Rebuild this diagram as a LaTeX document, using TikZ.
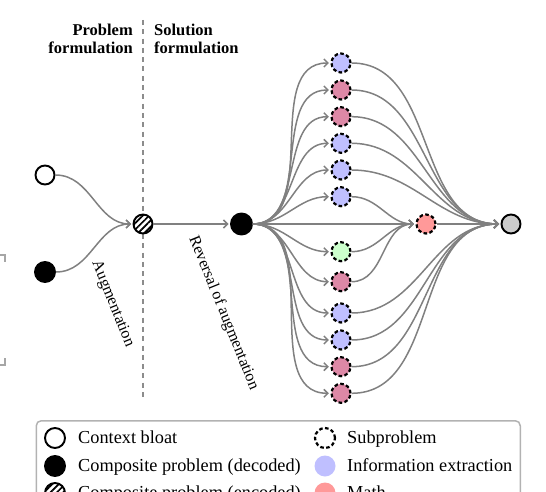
\documentclass[tikz,border=0pt]{standalone}
\usepackage{fontspec}
\setmainfont{Liberation Serif}
\usetikzlibrary{positioning,arrows.meta,patterns.meta,calc}
\definecolor{infoblue}{RGB}{191,191,255}
\definecolor{mathred}{RGB}{255,153,153}
\definecolor{subpink}{RGB}{221,136,166}
\definecolor{subgreen}{RGB}{204,255,204}
\definecolor{ansgray}{RGB}{204,204,204}

\begin{document}
\begin{tikzpicture}[x=1pt, y=-1pt,
  dot/.style={circle, draw, line width=1.9pt, minimum size=19pt, inner sep=0pt},
  sub/.style={circle, draw, dash pattern=on 3.6pt off 2.4pt, line width=2.2pt, minimum size=19pt, inner sep=0pt},
  hatch/.style={dot, preaction={fill=white}, pattern={Lines[angle=45,distance=4.5pt,line width=1.7pt]}},
  flow/.style={draw=gray, line width=1.5pt, -{Straight Barb[length=4pt,width=8pt]}, shorten >=1.5pt},
  lbl/.style={font=\fontsize{16}{18}\selectfont, rotate=-68, inner sep=0pt},
  head/.style={font=\fontsize{16.5}{18}\selectfont\bfseries, inner sep=0pt},
  legtxt/.style={font=\fontsize{18.3}{22}\selectfont, anchor=base west, inner sep=0pt}]
% x, y in pixels of the 546 x 492 frame, y going down
\useasboundingbox (0,0) rectangle (546,492);
\clip (0,0) rectangle (546,492);

% split between the two halves
\coordinate (divtop) at (143,20);
\coordinate (divbot) at (143,401);
\draw[gray!90, line width=2.2pt, dash pattern=on 5pt off 4.3pt] (divtop) -- (divbot);
\node[head, anchor=north east, align=right] (phead) at (133,24) {Problem\\formulation};
\node[head, anchor=north west, align=left] (shead) at (154,24) {Solution\\formulation};

% corner marks at the left edge
\draw[gray!70, line width=1.5pt] (0,255) -- (5,255) -- (5,262);
\draw[gray!70, line width=1.5pt] (5,358) -- (5,365) -- (0,365);

% problem side
\node[dot, fill=white] (bloat) at (45,175) {};
\node[dot, fill=black, minimum size=20pt] (dec) at (45,272) {};
\node[hatch] (enc) at (143,224) {};
\node[dot, fill=black, minimum size=21pt] (sol) at (241.5,224) {};
\draw[flow] (bloat) to[out=0,in=180] (enc);
\draw[flow] (dec) to[out=0,in=180] (enc);
\draw[flow] (enc) -- (sol);
\node[lbl] (auglbl) at (112.5,304) {Augmentation};
\node[lbl] (revlbl) at (223.5,313) {Reversal of augmentation};

% subproblems
\foreach \i/\y/\c in {1/63/infoblue, 2/90/subpink, 3/116.7/subpink, 4/143.3/infoblue, 5/170/infoblue, 6/196.7/infoblue,
  7/251.7/subgreen, 8/281.7/subpink, 9/313/infoblue, 10/340/infoblue, 11/366.7/subpink, 12/393.3/subpink}
  { \node[sub, fill=\c] (s\i) at (341,\y) {}; }
\node[sub, fill=mathred] (math) at (426,224) {};
\node[dot, fill=ansgray] (ans) at (511,224) {};

\foreach \i in {1,...,12} { \draw[flow] (sol) to[out=0,in=180] (s\i); }
\draw[flow] (sol) -- (math);
\foreach \i in {6,7,8} { \draw[flow] (s\i) to[out=0,in=180] (math); }
\foreach \i in {1,...,5,9,10,11,12} { \draw[flow] (s\i) to[out=0,in=180] (ans); }
\draw[flow] (math) -- (ans);

% legend
\node[draw=gray!60, line width=1.5pt, rounded corners=5pt, minimum width=484pt, minimum height=110pt, anchor=north west, inner sep=0pt] (legend) at (35.5,420) {};
\node[dot, fill=white, minimum size=20pt] (lk1) at (55,438) {};
\node[dot, fill=black, minimum size=20pt] (lk2) at (55,466) {};
\node[hatch, minimum size=20pt] (lk3) at (55,493) {};
\foreach \k/\t in {1/Context bloat, 2/Composite problem (decoded), 3/Composite problem (encoded)}
  { \node[legtxt] (lt\k) at ($(lk\k)+(23,5.5)$) {\t}; }
\node[sub, minimum size=20pt] (lm1) at (325,438) {};
\node[circle, fill=infoblue, minimum size=21pt, inner sep=0pt] (lm2) at (325,466) {};
\node[circle, fill=mathred, minimum size=21pt, inner sep=0pt] (lm3) at (325,493) {};
\foreach \k/\t in {1/Subproblem, 2/Information extraction, 3/Math}
  { \node[legtxt] (lu\k) at ($(lm\k)+(22,5.5)$) {\t}; }
\end{tikzpicture}
\end{document}
